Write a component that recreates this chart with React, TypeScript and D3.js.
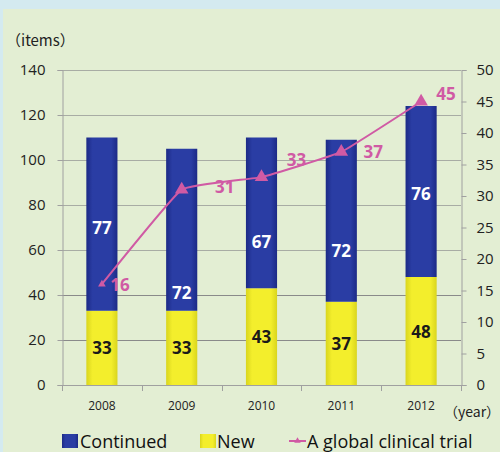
import React, { useEffect, useRef } from 'react';
import * as d3 from 'd3';

const years = ['2008', '2009', '2010', '2011', '2012'];
const newItems = [33, 33, 43, 37, 48];
const continuedItems = [77, 72, 67, 72, 76];
const globalTrials = [16, 31, 33, 37, 45];
const leftTicks = [0, 20, 40, 60, 80, 100, 120, 140];
const rightTicks = [0, 5, 10, 15, 20, 25, 30, 35, 40, 45, 50];
// where the "continued" numbers sit, in items
const continuedLabelAt = [70, 41, 64, 60, 85];
// nudges for the pink labels, in px
const trialLabelNudge = [[18, 0], [43, -3], [35, -18], [32, 0], [25, -8]];

const FONT = "'Open Sans', 'Noto Sans', sans-serif";
const CJK = "'Noto Sans CJK JP', 'Open Sans', sans-serif";
const PINK = '#d05aa4';

const App = () => {
  const svgRef = useRef<SVGSVGElement>(null);

  useEffect(() => {
    if (!svgRef.current) return;
    const svg = d3.select(svgRef.current);
    svg.selectAll('*').remove();

    const width = 500;
    const height = 452;
    const left = 62, right = 461, top = 70, bottom = 385;

    // backgrounds
    svg.append('rect').attr('width', width).attr('height', height).attr('fill', '#d4eaf0');
    svg.append('rect').attr('x', 3).attr('y', 9).attr('width', width - 3).attr('height', height - 9).attr('fill', '#e3eed3');

    const defs = svg.append('defs');
    const blueGrad = defs.append('linearGradient').attr('id', 'blueGrad').attr('x1', 0).attr('x2', 1).attr('y1', 0).attr('y2', 0);
    blueGrad.append('stop').attr('offset', '0%').attr('stop-color', '#1c2a86');
    blueGrad.append('stop').attr('offset', '20%').attr('stop-color', '#2a3da4');
    blueGrad.append('stop').attr('offset', '80%').attr('stop-color', '#2a3da4');
    blueGrad.append('stop').attr('offset', '100%').attr('stop-color', '#1c2a86');
    const yellowGrad = defs.append('linearGradient').attr('id', 'yellowGrad').attr('x1', 0).attr('x2', 1).attr('y1', 0).attr('y2', 0);
    yellowGrad.append('stop').attr('offset', '0%').attr('stop-color', '#d9d51e');
    yellowGrad.append('stop').attr('offset', '20%').attr('stop-color', '#f3ee2c');
    yellowGrad.append('stop').attr('offset', '80%').attr('stop-color', '#f3ee2c');
    yellowGrad.append('stop').attr('offset', '100%').attr('stop-color', '#d9d51e');

    const x = d3.scaleBand().domain(years).range([left, right]).paddingInner(0.61).paddingOuter(0.305);
    const yLeft = d3.scaleLinear().domain([0, 140]).range([bottom, top]);
    const yRight = d3.scaleLinear().domain([0, 50]).range([bottom, top]);

    // gridlines
    svg.append('g')
      .selectAll('line')
      .data(leftTicks.filter(t => t > 0))
      .enter()
      .append('line')
      .attr('x1', left).attr('x2', right)
      .attr('y1', d => yLeft(d) + 0.5).attr('y2', d => yLeft(d) + 0.5)
      .attr('stroke', d => (d <= 40 ? '#8a8a8a' : '#a8aca4'))
      .attr('stroke-width', 1);

    // left axis
    const gl = svg.append('g')
      .attr('transform', `translate(${left + 0.5},0)`)
      .call(d3.axisLeft(yLeft).tickValues(leftTicks).tickSize(5).tickPadding(12));
    gl.select('.domain').attr('stroke', '#a0a0a0');
    gl.selectAll('.tick line').attr('stroke', '#a0a0a0');
    gl.selectAll('.tick text').attr('font-family', FONT).attr('font-size', 15).attr('fill', '#222');

    // right axis
    const gr = svg.append('g')
      .attr('transform', `translate(${right + 0.5},0)`)
      .call(d3.axisRight(yRight).tickValues(rightTicks).tickSize(5).tickPadding(10));
    gr.select('.domain').attr('stroke', '#a0a0a0');
    gr.selectAll('.tick line').attr('stroke', '#a0a0a0');
    gr.selectAll('.tick text').attr('font-family', FONT).attr('font-size', 15).attr('fill', '#222');

    // bars
    const bars = svg.append('g');
    bars.selectAll('.new')
      .data(years)
      .enter()
      .append('rect')
      .attr('x', d => x(d)!)
      .attr('width', x.bandwidth())
      .attr('y', (d, i) => yLeft(newItems[i]))
      .attr('height', (d, i) => yLeft(0) - yLeft(newItems[i]))
      .attr('fill', 'url(#yellowGrad)');
    bars.selectAll('.cont')
      .data(years)
      .enter()
      .append('rect')
      .attr('x', d => x(d)!)
      .attr('width', x.bandwidth())
      .attr('y', (d, i) => yLeft(newItems[i] + continuedItems[i]))
      .attr('height', (d, i) => yLeft(newItems[i]) - yLeft(newItems[i] + continuedItems[i]))
      .attr('fill', 'url(#blueGrad)');

    // x axis
    svg.append('line')
      .attr('x1', left).attr('x2', right + 1)
      .attr('y1', bottom + 0.5).attr('y2', bottom + 0.5)
      .attr('stroke', '#a0a0a0');
    const boundaries = years.map(d => x(d)! - (x.step() - x.bandwidth()) / 2).concat([right]);
    svg.append('g')
      .selectAll('line')
      .data(boundaries)
      .enter()
      .append('line')
      .attr('x1', d => Math.round(d) + 0.5).attr('x2', d => Math.round(d) + 0.5)
      .attr('y1', bottom).attr('y2', bottom + 6)
      .attr('stroke', '#a0a0a0');
    svg.append('g')
      .selectAll('text')
      .data(years)
      .enter()
      .append('text')
      .attr('x', d => x(d)! + x.bandwidth() / 2)
      .attr('y', 410)
      .attr('text-anchor', 'middle')
      .attr('font-family', FONT)
      .attr('font-size', 12)
      .attr('fill', '#222')
      .text(d => d);

    // bar labels
    svg.append('g')
      .selectAll('text')
      .data(years)
      .enter()
      .append('text')
      .attr('x', d => x(d)! + x.bandwidth() / 2)
      .attr('y', (d, i) => yLeft(newItems[i] / 2))
      .attr('dominant-baseline', 'central')
      .attr('text-anchor', 'middle')
      .attr('font-family', FONT)
      .attr('font-weight', 'bold')
      .attr('font-size', 17)
      .attr('fill', '#1a1a1a')
      .text((d, i) => newItems[i]);
    svg.append('g')
      .selectAll('text')
      .data(years)
      .enter()
      .append('text')
      .attr('x', d => x(d)! + x.bandwidth() / 2)
      .attr('y', (d, i) => yLeft(continuedLabelAt[i]))
      .attr('dominant-baseline', 'central')
      .attr('text-anchor', 'middle')
      .attr('font-family', FONT)
      .attr('font-weight', 'bold')
      .attr('font-size', 17)
      .attr('fill', '#fff')
      .text((d, i) => continuedItems[i]);

    // global clinical trial line
    const line = d3.line<number>()
      .x((d, i) => x(years[i])! + x.bandwidth() / 2)
      .y(d => yRight(d))
      .curve(d3.curveCardinal.tension(0.7));
    svg.append('path')
      .datum(globalTrials)
      .attr('d', line)
      .attr('fill', 'none')
      .attr('stroke', PINK)
      .attr('stroke-width', 2);
    svg.append('g')
      .selectAll('path')
      .data(globalTrials)
      .enter()
      .append('path')
      .attr('transform', (d, i) => `translate(${x(years[i])! + x.bandwidth() / 2},${yRight(d)})`)
      .attr('d', (d, i) => d3.symbol(d3.symbolTriangle, i === 0 ? 25 : 80)())
      .attr('fill', PINK);
    svg.append('g')
      .selectAll('text')
      .data(globalTrials)
      .enter()
      .append('text')
      .attr('x', (d, i) => x(years[i])! + x.bandwidth() / 2 + trialLabelNudge[i][0])
      .attr('y', (d, i) => yRight(d) + trialLabelNudge[i][1])
      .attr('dominant-baseline', 'central')
      .attr('text-anchor', 'middle')
      .attr('font-family', FONT)
      .attr('font-weight', 'bold')
      .attr('font-size', 17)
      .attr('fill', PINK)
      .text(d => d);

    // unit labels
    svg.append('text')
      .attr('x', 6).attr('y', 46)
      .attr('font-family', CJK).attr('font-size', 15).attr('fill', '#222')
      .text('（items）');
    svg.append('text')
      .attr('x', 444).attr('y', 417)
      .attr('font-family', CJK).attr('font-size', 14).attr('fill', '#222')
      .text('（year）');

    // legend
    const lg = svg.append('g').attr('font-family', FONT).attr('font-size', 18).attr('fill', '#111');
    lg.append('rect').attr('x', 62).attr('y', 434).attr('width', 16).attr('height', 14).attr('fill', 'url(#blueGrad)');
    lg.append('text').attr('x', 80).attr('y', 448).text('Continued');
    lg.append('rect').attr('x', 200).attr('y', 434).attr('width', 16).attr('height', 14).attr('fill', 'url(#yellowGrad)');
    lg.append('text').attr('x', 217).attr('y', 448).text('New');
    lg.append('line').attr('x1', 289).attr('x2', 306).attr('y1', 441).attr('y2', 441).attr('stroke', PINK).attr('stroke-width', 2);
    lg.append('path').attr('transform', 'translate(297.5,441)').attr('d', d3.symbol(d3.symbolTriangle, 18)()).attr('fill', PINK);
    lg.append('text').attr('x', 307).attr('y', 448).text('A global clinical trial');
  }, []);

  return (
    <svg ref={svgRef} width={500} height={452} style={{ position: 'absolute', left: 0, top: 0 }} />
  );
};

export default App;
